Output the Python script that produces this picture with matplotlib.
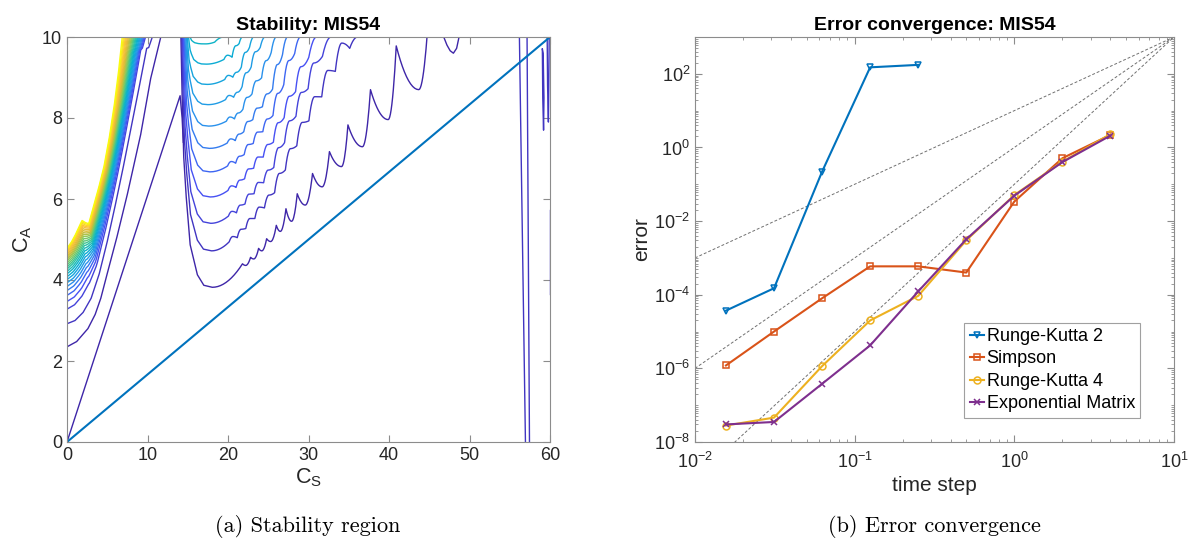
import numpy as np
import matplotlib
matplotlib.use("Agg")
import matplotlib.pyplot as plt
from matplotlib.colors import LinearSegmentedColormap
from matplotlib.ticker import LogLocator, NullFormatter, FixedLocator

plt.rcParams["font.family"] = ["Liberation Sans", "DejaVu Sans"]
plt.rcParams["mathtext.fontset"] = "custom"
plt.rcParams["mathtext.rm"] = "Liberation Sans"
plt.rcParams["mathtext.it"] = "Liberation Sans:italic"
plt.rcParams["mathtext.bf"] = "Liberation Sans:bold"

# ---------------- error convergence data ----------------
time_step = [1/64, 1/32, 1/16, 1/8, 1/4, 1/2, 1, 2, 4]
err_rk2 = [3.7e-5, 1.5e-4, 0.22, 150, 175]
err_simpson = [1.2e-6, 1.0e-5, 8.0e-5, 5.9e-4, 5.9e-4, 4.0e-4, 0.034, 0.51, 2.2]
err_rk4 = [2.8e-8, 4.6e-8, 1.15e-6, 2.0e-5, 9.3e-5, 3.0e-3, 0.051, 0.41, 2.3]
err_expm = [3.0e-8, 3.5e-8, 3.8e-7, 4.2e-6, 1.23e-4, 3.2e-3, 0.049, 0.40, 2.1]
method_names = ["Runge-Kutta 2", "Simpson", "Runge-Kutta 4", "Exponential Matrix"]
ref_orders = [2, 3, 4]          # dashed guide slopes, all through (10, 1e3)

# ---------------- stability contours ----------------
# outermost dark contour of the upper-left fan (level 1)
fan_l1_x = [0, 1.2, 2.6, 3.5, 4.2, 5.0, 6.2, 7.5, 9.15, 10.4, 11.65]
fan_l1_y = [2.35, 2.48, 2.8, 3.15, 3.55, 4.16, 5.06, 6.12, 7.59, 8.98, 10.0]
# level 2 contour (smooth, small kink near the top)
fan_l2_x = [0, 1, 2, 3, 4, 5, 6, 7, 8, 9, 9.9, 10.15, 10.6]
fan_l2_y = [2.92, 3.0, 3.2, 3.55, 4.15, 4.95, 5.85, 6.8, 7.8, 8.8, 9.72, 9.74, 10.0]
# innermost (yellow) contour with the bump near C_S = 2
fan_top_x = [0, 0.5, 1.0, 1.5, 1.87, 2.25, 2.7, 3.33, 3.9, 4.57, 5.2, 5.82, 6.35, 6.86]
fan_top_y = [4.78, 4.92, 5.1, 5.32, 5.47, 5.42, 5.39, 5.84, 6.25, 6.78, 7.45, 8.24, 9.05, 10.0]
# levels 3..25: height where each contour leaves C_S = 0 and C_S where it hits C_A = 10
fan_start = [3.28, 3.47, 3.62, 3.74, 3.84, 3.93, 4.01, 4.08, 4.15, 4.21, 4.27, 4.32,
             4.37, 4.42, 4.47, 4.51, 4.55, 4.59, 4.63, 4.67, 4.70, 4.73, 4.76]
fan_end = [9.75, 9.62, 9.5, 9.37, 9.25, 9.12, 9.0, 8.87, 8.75, 8.62, 8.5, 8.37,
           8.25, 8.12, 8.0, 7.87, 7.75, 7.62, 7.5, 7.37, 7.25, 7.12, 7.0]

# U-shaped contours (levels 1..11): bottom height, bottom position, wall top position
u_min = [3.82, 4.72, 5.40, 6.05, 6.67, 7.25, 7.80, 8.33, 8.83, 9.33, 9.83]
u_min_x = [18.05, 17.95, 17.85, 17.8, 17.75, 17.7, 17.6, 17.5, 17.4, 17.3, 17.2]
u_wall_x = [14.15, 14.25, 14.35, 14.45, 14.55, 14.65, 14.75, 14.85, 14.95, 15.1, 15.3]

# lowest U contour: alternating dips / peaks of its saw-tooth right branch
u1_teeth = [(18.05, 3.82), (21.8, 4.40), (22.2, 4.36), (22.8, 4.56), (23.2, 4.52),
            (23.8, 4.78), (24.2, 4.72), (24.8, 5.02), (25.3, 4.95), (26.0, 5.35),
            (26.5, 5.2), (27.2, 5.76), (27.9, 5.45), (28.6, 6.13), (29.6, 5.85),
            (30.5, 6.63), (31.7, 6.3), (32.6, 7.17), (34.1, 6.8), (34.9, 7.83),
            (36.7, 7.29), (37.7, 8.7), (39.9, 7.96), (40.9, 9.78), (43.7, 8.7),
            (44.8, 10.2)]
u1_arc_x = [46.8, 47.2, 47.6, 48.0, 48.4, 48.7]
u1_arc_y = [10.0, 9.8, 9.66, 9.6, 9.72, 10.0]

# levels 2..11: coarse right branch (x, y) and tooth size
u_right = [
    ([17.95, 21.2, 25.3, 29.7, 34.0, 36.1], [4.72, 5.05, 5.95, 7.8, 9.4, 10.0], 0.45),
    ([17.85, 21.2, 25.3, 29.0, 32.8], [5.40, 5.67, 6.6, 8.3, 10.0], 0.35),
    ([17.8, 21.2, 25.3, 28.5, 31.0], [6.05, 6.3, 7.25, 8.7, 10.0], 0.3),
    ([17.75, 21.2, 25.3, 29.0], [6.67, 6.9, 7.9, 10.0], 0.25),
    ([17.7, 21.2, 25.3, 27.4], [7.25, 7.46, 8.55, 10.0], 0.2),
    ([17.6, 21.2, 24.5, 26.0], [7.80, 8.0, 9.1, 10.0], 0.18),
    ([17.5, 21.2, 24.6], [8.33, 8.54, 10.0], 0.15),
    ([17.4, 21.2, 23.2], [8.83, 9.04, 10.0], 0.12),
    ([17.3, 20.5, 21.8], [9.33, 9.5, 10.0], 0.1),
    ([17.2, 18.5, 19.5], [9.83, 9.88, 10.0], 0.05),
]

# diagonal dark contour from the origin and the thin ones near C_S = 57..60
diag_x = [0, 14.05, 14.3, 14.45]
diag_y = [0, 8.55, 8.0, 7.4]
edge_lines = [
    ([56.2, 56.95], [10.0, 0.0]),
    ([57.15, 57.45], [10.0, 0.0]),
    ([59.05, 59.1, 59.2, 59.25, 59.15, 59.05], [9.7, 8.5, 7.7, 8.5, 9.6, 9.7]),
    ([59.65, 59.7, 59.8, 59.85, 59.9], [10.0, 8.8, 7.9, 8.8, 10.0]),
    ([60.0, 60.0], [5.72, 3.65]),
]
stab_line_x = [0, 60]
stab_line_y = [0, 10]

n_levels = 26
parula_pos = [0, 0.12, 0.25, 0.38, 0.5, 0.62, 0.75, 0.87, 1.0]
parula_rgb = [(0.2422, 0.1504, 0.6603), (0.2810, 0.3228, 0.9579), (0.1540, 0.5902, 0.9218),
              (0.0265, 0.6900, 0.8135), (0.2000, 0.7700, 0.6200), (0.5200, 0.7900, 0.3600),
              (0.8400, 0.7400, 0.2200), (0.9900, 0.7500, 0.2300), (0.9763, 0.9831, 0.0538)]
parula = LinearSegmentedColormap.from_list("parula", list(zip(parula_pos, parula_rgb)))


def level_color(k):
    return parula((k - 1) / (n_levels - 1))


def resample(xs, ys, n=300):
    xs, ys = np.asarray(xs, float), np.asarray(ys, float)
    d = np.concatenate([[0], np.cumsum(np.hypot(np.diff(xs), np.diff(ys)))])
    u = np.linspace(0, 1, n)
    return np.interp(u, d / d[-1], xs), np.interp(u, d / d[-1], ys)


def tooth_path(vertices, n=12):
    # dips are rounded, peaks sharp: ease-in on the way up, fast drop after a peak
    xs, ys = [vertices[0][0]], [vertices[0][1]]
    for i in range(len(vertices) - 1):
        (x0, y0), (x1, y1) = vertices[i], vertices[i + 1]
        t = np.linspace(0, 1, n)[1:]
        if i % 2 == 0:
            y = y0 + (y1 - y0) * t ** 2
        else:
            y = y1 + (y0 - y1) * (1 - t) ** 2
        xs.extend(x0 + (x1 - x0) * t)
        ys.extend(y)
    return np.array(xs), np.array(ys)


def wall(k):
    frac = np.array([1, 0.76, 0.52, 0.36, 0.17, 0.05, 0.008, 0])
    off = np.array([0, 0.04, 0.09, 0.17, 0.295, 0.525, 0.73, 1.0])
    xw, xm, m = u_wall_x[k], u_min_x[k], u_min[k]
    return xw + (xm - xw) * off, m + (10 - m) * frac


def teeth_from_base(bx, by, amp):
    bx, by = np.asarray(bx), np.asarray(by)
    verts = [(bx[0], by[0])]
    x = bx[0] + 2.2
    step = 1.0
    while x + step < bx[-1]:
        verts.append((x, np.interp(x, bx, by)))
        xp = x + 0.45 * step
        a = amp * (x - bx[0]) / (bx[-1] - bx[0] + 1e-9)
        verts.append((xp, np.interp(xp, bx, by) + a + 0.03))
        x += step
        step *= 1.06
    verts.append((bx[-1], by[-1]))
    if len(verts) % 2 == 0:
        xm = 0.5 * (verts[-2][0] + bx[-1])
        verts.insert(-1, (xm, np.interp(xm, bx, by)))
    return verts


fig = plt.figure(figsize=(12.02, 5.47), dpi=100)
ax1 = fig.add_axes([67 / 1202, 105 / 547, 483 / 1202, 405 / 547])
ax2 = fig.add_axes([695 / 1202, 105 / 547, 479 / 1202, 405 / 547])

frame_col = "#8c8c8c"
text_col = "#262626"
lw_c = 1.0

# ---- left: stability region ----
ax1.plot(fan_l1_x, fan_l1_y, color=level_color(1), lw=lw_c)
ax1.plot(fan_l2_x, fan_l2_y, color=level_color(2), lw=lw_c)
px2, py2 = resample(fan_l2_x, fan_l2_y)
pxt, pyt = resample(fan_top_x, fan_top_y)
u = np.linspace(0, 1, len(px2))
for i, (s, e) in enumerate(zip(fan_start + [fan_top_y[0]], fan_end + [fan_top_x[-1]])):
    wb = (s - fan_l2_y[0]) / (fan_top_y[0] - fan_l2_y[0])
    wt = (fan_l2_x[-1] - e) / (fan_l2_x[-1] - fan_top_x[-1])
    w = wb + (wt - wb) * u
    ax1.plot((1 - w) * px2 + w * pxt, (1 - w) * py2 + w * pyt,
             color=level_color(i + 3), lw=lw_c)

# U family
wx, wy = wall(0)
tx, ty = tooth_path(u1_teeth)
ax1.plot(np.r_[wx, tx], np.r_[wy, ty], color=level_color(1), lw=lw_c)
ax1.plot(u1_arc_x, u1_arc_y, color=level_color(1), lw=lw_c)
for k, (bx, by, amp) in enumerate(u_right, start=1):
    wx, wy = wall(k)
    tx, ty = tooth_path(teeth_from_base(bx, by, amp))
    ax1.plot(np.r_[wx, tx], np.r_[wy, ty], color=level_color(k + 1), lw=lw_c)

ax1.plot(diag_x, diag_y, color=level_color(1), lw=lw_c)
for ex, ey in edge_lines:
    ax1.plot(ex, ey, color=level_color(2), lw=lw_c)
ax1.plot(stab_line_x, stab_line_y, color="#0072BD", lw=1.5)

ax1.set_xlim(0, 60)
ax1.set_ylim(0, 10)
ax1.set_xticks([0, 10, 20, 30, 40, 50, 60])
ax1.set_yticks([0, 2, 4, 6, 8, 10])
ax1.set_title("Stability: MIS54", fontsize=14, fontweight="bold", pad=5)
ax1.set_xlabel(r"$\mathregular{C_S}$", fontsize=15.5, color=text_col, labelpad=2)
ax1.set_ylabel(r"$\mathregular{C_A}$", fontsize=15.5, color=text_col, labelpad=6)

# ---- right: error convergence ----
xg = np.array([1e-2, 10.0])
for p in ref_orders:
    ax2.plot(xg, 1e3 * (xg / 10.0) ** p, ls=(0, (3, 2)), color="#707070", lw=0.7)

series = [(time_step[:len(err_rk2)], err_rk2, "#0072BD", "v"),
          (time_step, err_simpson, "#D95319", "s"),
          (time_step, err_rk4, "#EDB120", "o"),
          (time_step, err_expm, "#7E2F8E", "x")]
for (x, y, c, mk), name in zip(series, method_names):
    ax2.plot(x, y, color=c, lw=1.5, marker=mk, ms=5,
             mfc="none" if mk != "x" else c, mec=c, mew=1.1, label=name)

ax2.set_xscale("log")
ax2.set_yscale("log")
ax2.set_xlim(1e-2, 1e1)
ax2.set_ylim(1e-8, 1e3)
ax2.yaxis.set_major_locator(FixedLocator([1e-8, 1e-6, 1e-4, 1e-2, 1e0, 1e2]))
ax2.yaxis.set_minor_locator(LogLocator(base=10, subs=np.arange(1, 10), numticks=40))
ax2.yaxis.set_minor_formatter(NullFormatter())
ax2.xaxis.set_minor_locator(LogLocator(base=10, subs=np.arange(2, 10), numticks=40))
ax2.xaxis.set_minor_formatter(NullFormatter())
ax2.set_title("Error convergence: MIS54", fontsize=14, fontweight="bold", pad=5)
ax2.set_xlabel("time step", fontsize=15, color=text_col, labelpad=3)
ax2.set_ylabel("error", fontsize=15, color=text_col, labelpad=2)
leg = ax2.legend(loc="lower right", bbox_to_anchor=(0.93, 0.06), fontsize=13,
                 handlelength=0.8, handletextpad=0.15, labelspacing=0.3,
                 borderpad=0.3, borderaxespad=0, fancybox=False, framealpha=1)
leg.get_frame().set_edgecolor("#a0a0a0")
leg.get_frame().set_linewidth(0.8)

for ax in (ax1, ax2):
    for sp in ax.spines.values():
        sp.set_color(frame_col)
        sp.set_linewidth(0.8)
    ax.tick_params(which="both", direction="in", top=True, right=True,
                   color=frame_col, labelcolor=text_col, labelsize=13)
    ax.tick_params(which="major", length=5)
    ax.tick_params(which="minor", length=2.5)
ax2.tick_params(axis="x", which="major", pad=7)

fig.text(308 / 1202, 1 - 526 / 547, "(a) Stability region", family="cmr10",
         fontsize=16, ha="center", va="center")
fig.text(934 / 1202, 1 - 526 / 547, "(b) Error convergence", family="cmr10",
         fontsize=16, ha="center", va="center")

fig.savefig("out.png", dpi=100)
